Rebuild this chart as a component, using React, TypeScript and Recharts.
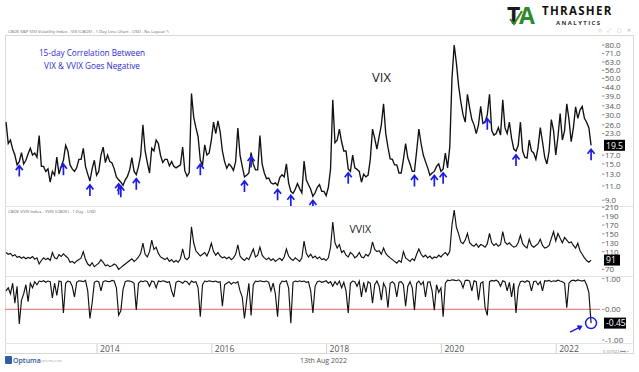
import React from "react";
import { Line, LineChart, ReferenceLine, XAxis, YAxis } from "recharts";

// bi-weekly samples, mid 2012 -> Aug 2022
const START_YEAR = 2012.415;
const STEP = 1 / 26;
const X_DOMAIN: [number, number] = [2012.397, 2022.763];
const YEAR_TICKS = [2014, 2016, 2018, 2020, 2022];

const VIX_TICKS = [9, 11, 13, 15, 17, 23, 26, 30, 34, 39, 44, 50, 56, 63, 71, 80];
const VVIX_TICKS = [70, 110, 130, 150, 170, 190, 210];
const CORR_TICKS = [-1, 0, 1];

const vix = [
  27, 20, 21, 18.5, 17, 14.8, 15.5, 17.6, 15, 15.8,
  17.3, 18.7, 17, 17.5, 16.5, 22.4, 14.5, 14.5, 13.5, 14,
  11.6, 13.5, 12.8, 16.5, 13, 14.5, 15.8, 19.5, 18, 14.8,
  14, 13.5, 14.2, 16, 16, 18.7, 14.5, 13, 11.8, 14,
  15.8, 12.8, 13.5, 17, 19, 15.3, 17, 15.5, 15.2, 14,
  12.5, 12, 11.6, 11.1, 12, 12.6, 13.8, 16.4, 13.5, 12.9,
  14.5, 17, 26, 18, 15.3, 13.2, 18.7, 18, 21, 20,
  16.9, 15.3, 16, 16, 14.6, 15.5, 14.5, 14.2, 14.5, 14.8,
  19, 13.6, 12.6, 13.3, 40.4, 29, 25, 22, 15.8, 14.8,
  19.6, 17, 17.5, 21, 27, 23, 27.5, 23.6, 18, 15.5,
  14.1, 15, 14.5, 13.7, 15.5, 24.9, 17, 14.5, 12.5, 12.8,
  13.2, 17.6, 15, 13.8, 13.8, 22.4, 15, 13.2, 12.2, 12.3,
  11.5, 11.3, 11.5, 11.1, 12.4, 12.9, 12.5, 15, 11.5, 10.2,
  9.9, 10.5, 11.4, 10.6, 10, 15.6, 12, 11.2, 10.5, 9.5,
  10, 10.8, 11.2, 10.2, 10.2, 9.6, 10.8, 14, 37, 20.2,
  21, 24.5, 20.5, 18, 18, 14, 13.5, 17, 14.2, 13.9,
  13.5, 11.6, 13, 12.5, 12.8, 16, 24.5, 21.5, 18.5, 22,
  26, 35, 23, 19, 16.1, 16, 14.8, 14.8, 13.2, 13.2,
  16, 20, 16.3, 15, 13.5, 13.5, 18, 24.5, 20, 17,
  15.5, 14.2, 12.8, 13.2, 13.5, 14.5, 15, 13.5, 14, 17.5,
  14.2, 19, 50, 80, 62, 45, 36, 30, 27, 40,
  33, 28, 26, 23, 26, 33.7, 26.5, 27, 30, 40,
  24, 22.5, 23, 25, 22.5, 37, 25, 23, 27, 21.5,
  18.5, 18, 19.5, 27, 18, 16.5, 16.3, 21, 18, 17.5,
  16, 19, 25, 20.5, 16.5, 15, 18, 28, 24, 17,
  22, 30.5, 21, 24, 35, 28, 20.5, 25, 33.5, 28.5,
  32, 33.7, 28.5, 27, 25, 19.5,
];

const vvix = [
  108, 104, 106, 100, 103, 97, 99, 95, 98, 94,
  97, 95, 99, 93, 96, 82, 90, 96, 92, 95,
  90, 108, 96, 94, 103, 99, 105, 100, 96, 86,
  88, 84, 89, 92, 96, 110, 92, 82, 78, 85,
  76, 80, 84, 92, 86, 78, 80, 76, 78, 82,
  79, 70, 74, 78, 82, 86, 90, 94, 88, 92,
  98, 106, 129, 104, 98, 110, 136, 115, 120, 106,
  98, 95, 92, 96, 88, 92, 86, 90, 86, 94,
  116, 96, 92, 98, 166, 130, 112, 106, 100, 104,
  108, 100, 112, 129, 110, 102, 108, 100, 96, 98,
  94, 98, 92, 96, 104, 125, 100, 94, 90, 96,
  92, 104, 116, 98, 102, 120, 102, 96, 92, 96,
  90, 94, 88, 92, 95, 90, 98, 116, 100, 94,
  90, 96, 92, 88, 96, 134, 106, 98, 104, 96,
  100, 94, 98, 92, 94, 90, 96, 120, 177, 130,
  118, 126, 108, 112, 102, 98, 108, 104, 96, 100,
  108, 98, 96, 104, 100, 108, 132, 115, 110, 112,
  104, 118, 106, 100, 96, 92, 88, 84, 90, 86,
  110, 96, 92, 88, 94, 90, 104, 116, 104, 98,
  102, 96, 100, 94, 98, 96, 102, 98, 104, 108,
  102, 110, 170, 204, 165, 150, 132, 128, 136, 151,
  130, 125, 122, 128, 120, 126, 124, 120, 128, 151,
  130, 124, 128, 122, 126, 155, 132, 126, 130, 124,
  120, 122, 130, 147, 128, 122, 118, 138, 124, 120,
  124, 128, 138, 124, 118, 120, 124, 140, 155, 134,
  151, 140, 130, 142, 136, 130, 132, 124, 118, 129,
  112, 104, 96, 90, 86, 91,
];

// 15-day correlation VIX / VVIX
const corr = [
  0.6, 0.7, 0.5, 0.85, 0.2, 0.75, -0.48, 0.3, 0.5, 0.8,
  0.25, 0.85, 0.7, 0.9, 0.8, 0.92, 0.9, 0.93, 0.88, 0.92,
  0.9, 0.37, 0.85, 0.45, 0.92, 0.9, -0.12, 0.85, 0.92, 0.9,
  0.75, 0.4, 0.88, 0.93, 0.92, 0.9, 0.94, 0.6, -0.3, 0.2,
  0.88, 0.92, 0.9, 0.6, 0.9, 0.93, 0.91, 0.9, 0.94, 0.92,
  0.7, -0.19, -0.05, 0.65, 0.9, 0.93, 0.92, 0.9, 0.85, -0.02,
  0.85, 0.92, 0.9, 0.93, 0.9, 0.75, 0.92, 0.9, 0.7, 0.92,
  0.9, 0.93, 0.91, 0.88, 0.9, 0.6, 0.4, 0.88, 0.92, 0.9,
  0.85, 0.92, 0.9, 0.8, 0.92, 0.88, 0.9, 0.7, -0.24, 0.8,
  0.92, 0.9, 0.93, 0.91, 0.9, 0.92, 0.88, 0.9, 0.1, 0.8,
  0.85, 0.9, 0.82, 0.88, 0.85, 0.9, 0.6, 0.4, -0.3, 0.3,
  0.85, -0.2, 0.8, 0.92, 0.9, 0.93, 0.91, 0.9, 0.92, 0.88,
  0.6, 0.85, 0.5, -0.24, 0.8, 0.92, 0.9, 0.93, 0.7, -0.45,
  0.88, 0.92, 0.9, 0.93, 0.9, 0.92, 0.88, 0.9, 0.6, -0.12,
  0.75, 0.9, 0.92, 0.88, 0.9, 0.93, 0.85, 0.9, 0.75, 0.9,
  0.8, 0.92, 0.7, 0.88, 0.6, -0.12, 0.85, 0.92, 0.9, 0.75,
  0.92, 0.4, 0.88, 0.55, 0.9, 0.85, 0.2, 0.8, 0.92, 0.75,
  0.3, 0.85, 0.7, 0.05, 0.85, 0.9, 0.82, 0.4, 0.88, 0.9,
  0.8, 0.1, 0.75, 0.9, 0.7, -0.02, 0.85, 0.92, 0.8, 0.9,
  0.4, 0.88, 0.9, 0.6, -0.03, 0.8, 0.55, 0.7, -0.24, 0.85,
  0.95, 0.93, 0.96, 0.95, 0.93, 0.96, 0.9, 0.7, 0.94, 0.95,
  0.92, 0.6, 0.93, 0.9, 0.3, 0.85, 0.9, 0.05, -0.2, 0.9,
  0.94, 0.92, 0.95, 0.9, 0.75, 0.93, 0.9, 0.6, 0.88, 0.4,
  0.85, -0.12, 0.7, 0.9, 0.92, 0.88, 0.93, 0.9, 0.6, 0.9,
  0.92, 0.8, 0.9, 0.6, 0.93, 0.92, 0.94, 0.9, 0.93, 0.91,
  0.95, 0.92, 0.9, 0.85, 0.05, 0.85, 0.93, 0.95, 0.92, 0.96,
  0.94, 0.92, 0.95, 0.8, 0.55, -0.45,
];

const data = vix.map((v, i) => ({
  t: START_YEAR + i * STEP,
  vix: v,
  vvix: vvix[i],
  corr: corr[i],
}));

const BLUE = "#1c1ce8";
const TICK_GREY = "#555";
const FONT = '"Open Sans", "Noto Sans", sans-serif';
const TICK_FS = 7.9;

function makeTick(fmt: (v: number) => string, last: number, boxW: number) {
  return (p: any) => {
    const { x, y, payload } = p;
    const v = payload.value;
    if (v === last) {
      return (
        <g>
          <rect x={x + 4} y={y - 5.5} width={boxW} height={11} fill="#000" />
          <text x={x + 6} y={y + 3.2} fontSize={8.6} fill="#fff">
            {fmt(v)}
          </text>
        </g>
      );
    }
    return (
      <g>
        <line x1={x + 2} x2={x + 4.5} y1={y} y2={y} stroke="#777" strokeWidth={0.8} />
        <text x={x + 5} y={y + 2.9} fontSize={TICK_FS} fill={TICK_GREY}>
          {fmt(v)}
        </text>
      </g>
    );
  };
}

const yearTick = (p: any) => {
  const { x, y, payload } = p;
  return (
    <g>
      <line x1={x} x2={x} y1={y + 1} y2={y + 10} stroke="#cfcfcf" />
      <text x={x + 3} y={y + 9} fontSize={8.6} fill={TICK_GREY}>
        {payload.value}
      </text>
    </g>
  );
};

// blue arrows under the VIX line wherever the correlation is below zero
const vixDot = (p: any) => {
  const { cx, cy, index } = p;
  if (cx == null || corr[index] >= 0) return <g key={`a${index}`} />;
  const tip = cy + 4;
  return (
    <path
      key={`a${index}`}
      d={`M${cx},${tip + 11} L${cx},${tip + 1} M${cx - 3.5},${tip + 4.5} L${cx},${tip} L${cx + 3.5},${tip + 4.5}`}
      stroke={BLUE}
      strokeWidth={1.7}
      fill="none"
    />
  );
};

// circle + pointer on the latest correlation reading
const corrDot = (p: any) => {
  const { cx, cy, index } = p;
  if (cx == null || index !== corr.length - 1) return <g key={`c${index}`} />;
  return (
    <g key="last">
      <circle cx={cx} cy={cy} r={5.5} stroke={BLUE} strokeWidth={1.5} fill="none" />
      <path d={`M${cx - 21},${cy + 9} L${cx - 10},${cy + 3.5}`} stroke={BLUE} strokeWidth={1.6} />
      <path
        d={`M${cx - 11.5},${cy + 7} L${cx - 9},${cy + 3} L${cx - 13.7},${cy + 2.6} Z`}
        fill={BLUE}
        stroke={BLUE}
        strokeWidth={0.8}
      />
    </g>
  );
};

const lastVix = vix[vix.length - 1];
const lastVvix = vvix[vvix.length - 1];
const lastCorr = corr[corr.length - 1];

const abs = (s: React.CSSProperties): React.CSSProperties => ({
  position: "absolute",
  whiteSpace: "nowrap",
  lineHeight: 1,
  ...s,
});

export default function App() {
  return (
    <div
      style={{
        position: "absolute",
        left: 0,
        top: 0,
        width: 639,
        height: 372,
        background: "#fff",
        overflow: "hidden",
        fontFamily: FONT,
      }}
    >
      <style>{".recharts-surface{overflow:visible}"}</style>

      {/* logo */}
      <svg style={{ position: "absolute", left: 505, top: 0, overflow: "visible" }} width={118} height={30}>
        <text x={2} y={24} fontSize={23} fontWeight={700} fill="#1a1a1a" fontFamily={FONT}>
          T
        </text>
        <text x={14} y={24} fontSize={23} fontWeight={700} fill="#2f8a2f" fontFamily={FONT}>
          A
        </text>
        <path d="M5,19 L9,24 L17,11" stroke="#2f8a2f" strokeWidth={2} fill="none" />
        <text x={37} y={15} fontSize={11.5} fontWeight={700} fill="#111" letterSpacing={1.3} fontFamily={FONT}>
          THRASHER
        </text>
        <text x={51} y={25} fontSize={6} fontWeight={700} fill="#333" letterSpacing={1.4} fontFamily={FONT}>
          ANALYTICS
        </text>
      </svg>

      <div style={abs({ left: 8, top: 28.5, fontSize: 4.3, color: "#666" })}>
        CBOE S&amp;P 500 Volatility Index - VIX (CBOE) - 1 Day Line Chart - USD - No Layout ✎
      </div>
      <div style={abs({ left: 598, top: 28, fontSize: 5, color: "#aaa", letterSpacing: 2 })}>◇ ⤢ ▢ ✕</div>

      {/* frame and panel separators */}
      <div
        style={{
          position: "absolute",
          left: 5,
          top: 35,
          width: 629,
          height: 319,
          border: "1px solid #d9d9d9",
          boxSizing: "border-box",
        }}
      />
      <div style={{ position: "absolute", left: 5, top: 206, width: 629, height: 1, background: "#e2e2e2" }} />
      <div style={{ position: "absolute", left: 5, top: 276, width: 629, height: 1, background: "#e2e2e2" }} />
      <div style={{ position: "absolute", left: 5, top: 343, width: 629, height: 1, background: "#e6e6e6" }} />

      {/* VIX panel */}
      <div style={{ position: "absolute", left: 5, top: 36 }}>
        <LineChart width={628} height={170} data={data} margin={{ top: 0, right: 0, bottom: 0, left: 0 }}>
          <XAxis type="number" dataKey="t" domain={X_DOMAIN} allowDataOverflow hide />
          <YAxis
            orientation="right"
            type="number"
            scale="log"
            domain={[8.3, 90.8]}
            allowDataOverflow
            ticks={[...VIX_TICKS, lastVix]}
            interval={0}
            width={33}
            axisLine={false}
            tickLine={false}
            tickSize={0}
            tickMargin={0}
            tick={makeTick((v) => v.toFixed(1), lastVix, 21)}
          />
          <Line
            type="linear"
            dataKey="vix"
            stroke="#111"
            strokeWidth={1.35}
            dot={vixDot}
            activeDot={false}
            isAnimationActive={false}
          />
        </LineChart>
      </div>

      <div style={abs({ left: 36, top: 47, width: 112, textAlign: "center", fontSize: 8.2, lineHeight: "12.5px", color: "#2b2bd6" })}>
        15-day Correlation Between
        <br />
        VIX &amp; VVIX Goes Negative
      </div>
      <div style={abs({ left: 372, top: 70.5, fontSize: 13, color: "#222" })}>VIX</div>

      {/* VVIX panel */}
      <div style={abs({ left: 8, top: 209, fontSize: 4.3, color: "#666" })}>CBOE VVIX Index - VVIX (CBOE) - 1 Day - USD</div>
      <div style={{ position: "absolute", left: 5, top: 206 }}>
        <LineChart width={628} height={70} data={data} margin={{ top: 0, right: 0, bottom: 0, left: 0 }}>
          <XAxis type="number" dataKey="t" domain={X_DOMAIN} allowDataOverflow hide />
          <YAxis
            orientation="right"
            type="number"
            domain={[55, 213]}
            allowDataOverflow
            ticks={[...VVIX_TICKS, lastVvix]}
            interval={0}
            width={33}
            axisLine={false}
            tickLine={false}
            tickSize={0}
            tickMargin={0}
            tick={makeTick((v) => String(Math.round(v)), lastVvix, 16)}
          />
          <Line
            type="linear"
            dataKey="vvix"
            stroke="#111"
            strokeWidth={1.15}
            dot={false}
            activeDot={false}
            isAnimationActive={false}
          />
        </LineChart>
      </div>
      <div style={abs({ left: 349.5, top: 223.5, fontSize: 10.5, color: "#222" })}>VVIX</div>

      {/* correlation panel */}
      <div style={{ position: "absolute", left: 5, top: 276 }}>
        <LineChart width={628} height={78} data={data} margin={{ top: 0, right: 0, bottom: 0, left: 0 }}>
          <XAxis
            type="number"
            dataKey="t"
            domain={X_DOMAIN}
            allowDataOverflow
            ticks={YEAR_TICKS}
            interval={0}
            height={11}
            axisLine={false}
            tickLine={false}
            tickSize={0}
            tickMargin={0}
            tick={yearTick}
          />
          <YAxis
            orientation="right"
            type="number"
            domain={[-1.098, 1.085]}
            allowDataOverflow
            ticks={[...CORR_TICKS, lastCorr]}
            interval={0}
            width={33}
            axisLine={false}
            tickLine={false}
            tickSize={0}
            tickMargin={0}
            tick={makeTick((v) => v.toFixed(2), lastCorr, 22)}
          />
          <ReferenceLine y={0} stroke="#e26a6a" strokeWidth={1} />
          <Line
            type="linear"
            dataKey="corr"
            stroke="#111"
            strokeWidth={1.15}
            dot={corrDot}
            activeDot={false}
            isAnimationActive={false}
          />
        </LineChart>
      </div>

      <div style={abs({ left: 603, top: 349.5, fontSize: 3.8, color: "#888" })}>0.107022 ⟷ ▪</div>

      {/* footer */}
      <div style={{ position: "absolute", left: 5, top: 356, width: 7, height: 8, background: "#2f5fa8", borderRadius: 1 }} />
      <div style={abs({ left: 13, top: 357, fontSize: 7, color: "#2d5a9a", fontWeight: 600 })}>Optuma</div>
      <div style={abs({ left: 41, top: 359, fontSize: 3.5, color: "#aaa" })}>optuma.com</div>
      <div style={abs({ left: 300, top: 357, fontSize: 7, color: "#555" })}>13th Aug 2022</div>
    </div>
  );
}
